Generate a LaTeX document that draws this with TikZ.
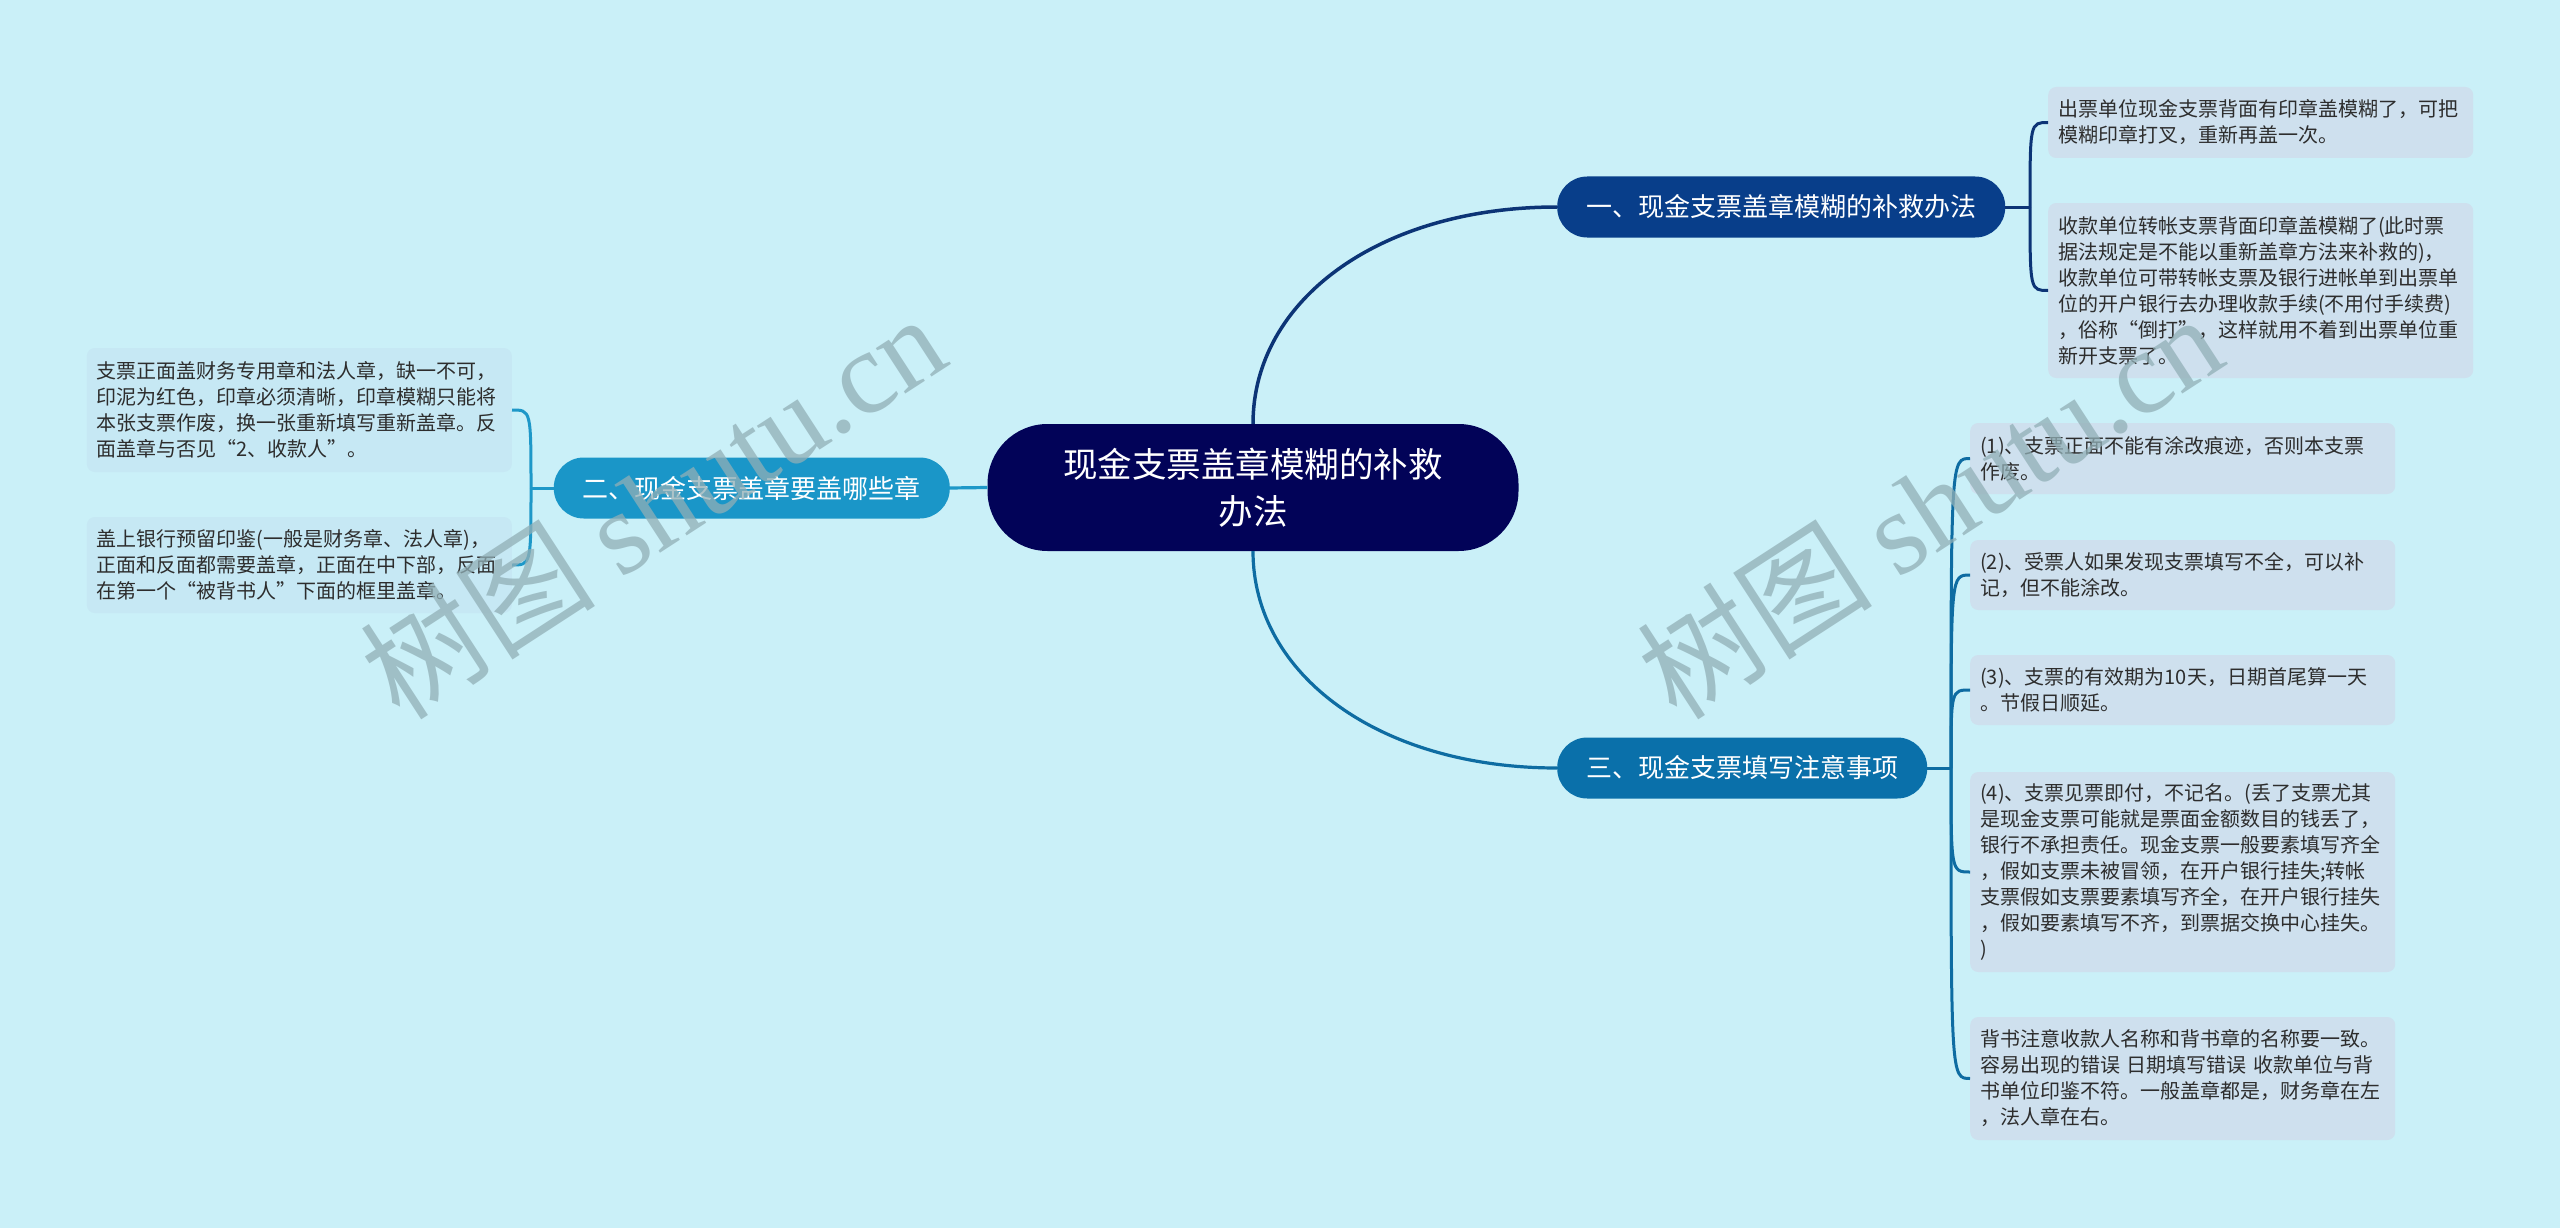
\documentclass[tikz,border=0pt]{standalone}
\usepackage{fontspec}
\setmainfont{Noto Sans CJK SC}
\newfontfamily\wmlatin{Liberation Serif}
\definecolor{bgc}{RGB}{202,240,248}
\definecolor{rootc}{RGB}{2,3,88}
\definecolor{onec}{RGB}{8,62,138}
\definecolor{onel}{RGB}{12,52,118}
\definecolor{twoc}{RGB}{26,150,200}
\definecolor{twol}{RGB}{30,152,200}
\definecolor{threec}{RGB}{10,112,170}
\definecolor{threel}{RGB}{14,108,162}
\definecolor{leafr}{RGB}{206,224,238}
\definecolor{leafl}{RGB}{198,232,244}
\definecolor{txtc}{RGB}{45,45,45}
\definecolor{wmc}{RGB}{145,175,182}
\tikzset{
  rootbox/.style={fill=rootc, text=white, rounded corners=60pt, minimum width=531pt, minimum height=127pt, align=center, font=\fontsize{34.5}{47}\selectfont},
  mainbox/.style={text=white, rounded corners=30pt, minimum height=61pt, inner xsep=29pt, inner ysep=0pt, font=\fontsize{26}{30}\selectfont},
  leafbox/.style={rounded corners=8pt, text width=405pt, inner xsep=10pt, inner ysep=0pt, align=left, text=txtc, font=\fontsize{20}{26}\selectfont},
  wmark/.style={text=wmc, opacity=0.75, font=\fontsize{118}{124}\selectfont, rotate=33},
}
\begin{document}
\begin{tikzpicture}[x=1pt,y=-1pt]
\fill[bgc] (0,0) rectangle (2560,1228);
\useasboundingbox (0,0) rectangle (2560,1228);

% main nodes
\node[rootbox] (root) at (1253,487.5) {现金支票盖章模糊的补救\\办法};
\node[mainbox, fill=onec, anchor=west] (n1) at (1557,207) {一、现金支票盖章模糊的补救办法};
\node[mainbox, fill=twoc, anchor=east] (n2) at (950,488) {二、现金支票盖章要盖哪些章};
\node[mainbox, fill=threec, anchor=west] (n3) at (1557,768) {三、现金支票填写注意事项};

% leaves of n1
\node[leafbox, fill=leafr, anchor=west, minimum height=71pt] (l1a) at (2048,122.5) {出票单位现金支票背面有印章盖模糊了，可把\\模糊印章打叉，重新再盖一次。};
\node[leafbox, fill=leafr, anchor=west, minimum height=175pt] (l1b) at (2048,290.5) {收款单位转帐支票背面印章盖模糊了(此时票\\据法规定是不能以重新盖章方法来补救的)，\\收款单位可带转帐支票及银行进帐单到出票单\\位的开户银行去办理收款手续(不用付手续费)\\，俗称“倒打”，这样就用不着到出票单位重\\新开支票了。};

% leaves of n2
\node[leafbox, fill=leafl, anchor=east, minimum height=124pt] (l2a) at (512,410) {支票正面盖财务专用章和法人章，缺一不可，\\印泥为红色，印章必须清晰，印章模糊只能将\\本张支票作废，换一张重新填写重新盖章。反\\面盖章与否见“2、收款人”。};
\node[leafbox, fill=leafl, anchor=east, minimum height=96pt] (l2b) at (512,565) {盖上银行预留印鉴(一般是财务章、法人章)，\\正面和反面都需要盖章，正面在中下部，反面\\在第一个“被背书人”下面的框里盖章。};

% leaves of n3
\node[leafbox, fill=leafr, anchor=west, minimum height=71pt] (l31) at (1970,458.5) {(1)、支票正面不能有涂改痕迹，否则本支票\\作废。};
\node[leafbox, fill=leafr, anchor=west, minimum height=70pt] (l32) at (1970,575) {(2)、受票人如果发现支票填写不全，可以补\\记，但不能涂改。};
\node[leafbox, fill=leafr, anchor=west, minimum height=70pt] (l33) at (1970,690) {(3)、支票的有效期为10天，日期首尾算一天\\。节假日顺延。};
\node[leafbox, fill=leafr, anchor=west, minimum height=200pt] (l34) at (1970,872) {(4)、支票见票即付，不记名。(丢了支票尤其\\是现金支票可能就是票面金额数目的钱丢了，\\银行不承担责任。现金支票一般要素填写齐全\\，假如支票未被冒领，在开户银行挂失;转帐\\支票假如支票要素填写齐全，在开户银行挂失\\，假如要素填写不齐，到票据交换中心挂失。\\)};
\node[leafbox, fill=leafr, anchor=west, minimum height=123pt] (l35) at (1970,1078.5) {背书注意收款人名称和背书章的名称要一致。\\容易出现的错误 日期填写错误 收款单位与背\\书单位印鉴不符。一般盖章都是，财务章在左\\，法人章在右。};

% root connectors
\draw[onel, line width=3.5pt] (root.north) .. controls +(0,-124) and +(-177,0) .. (n1.west);
\draw[threel, line width=3.2pt] (root.south) .. controls +(0,124) and +(-177,0) .. (n3.west);
\draw[twol, line width=3.2pt] (root.west) -- (n2.east);

% bracket n1
\coordinate (b1) at (2030,207);
\draw[onel, line width=3pt] (n1.east) -- (b1);
\draw[onel, line width=3pt] (b1) .. controls (b1 |- l1a.west) and (b1 |- l1a.west) .. (l1a.west);
\draw[onel, line width=3pt] (b1) .. controls (b1 |- l1b.west) and (b1 |- l1b.west) .. (l1b.west);

% bracket n2
\coordinate (b2) at (531,488);
\draw[twol, line width=3pt] (n2.west) -- (b2);
\draw[twol, line width=3pt] (b2) .. controls (b2 |- l2a.east) and (b2 |- l2a.east) .. (l2a.east);
\draw[twol, line width=3pt] (b2) .. controls (b2 |- l2b.east) and (b2 |- l2b.east) .. (l2b.east);

% bracket n3
\coordinate (b3) at (1951,768);
\draw[threel, line width=3pt] (n3.east) -- (b3);
\foreach \l in {l31,l32,l33,l34,l35}{
  \draw[threel, line width=3pt] (b3) .. controls (b3 |- \l.west) and (b3 |- \l.west) .. (\l.west);
}

% watermarks
\node[wmark] (wm1) at (652,505) {树图 {\wmlatin shutu.cn}};
\node[wmark] (wm2) at (1929,505) {树图 {\wmlatin shutu.cn}};
\end{tikzpicture}
\end{document}
